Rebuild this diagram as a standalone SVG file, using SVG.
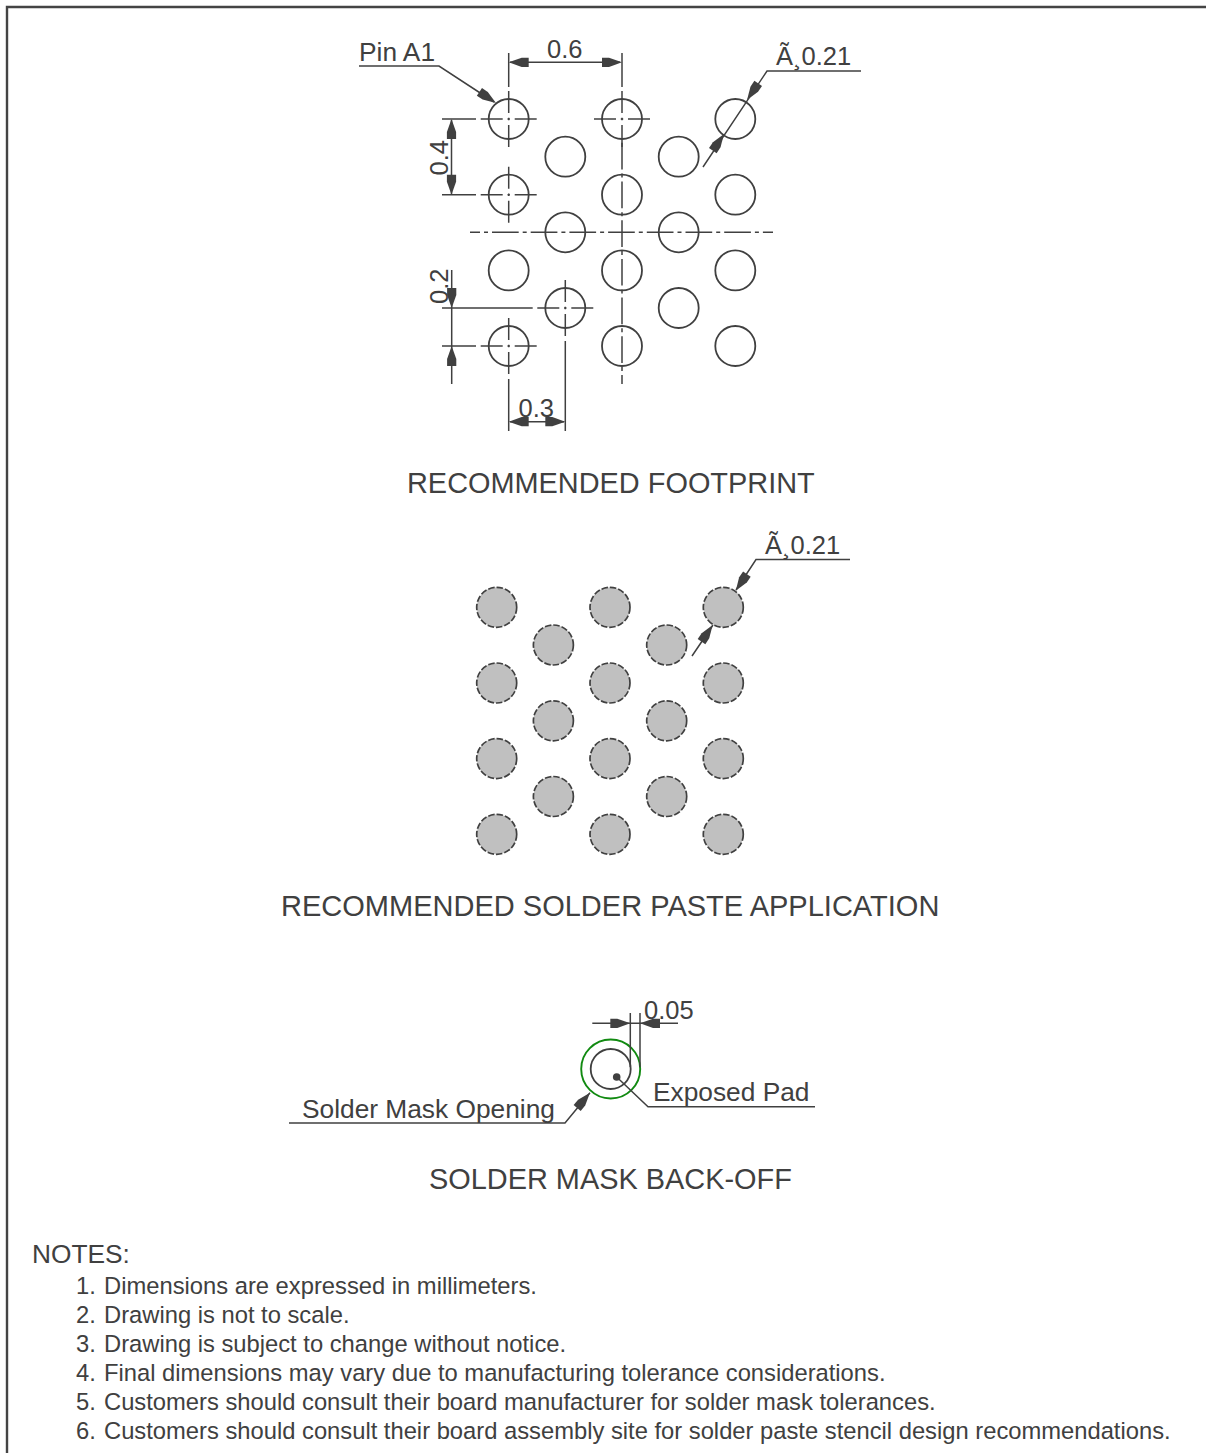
<svg xmlns="http://www.w3.org/2000/svg" width="1206" height="1453" viewBox="0 0 1206 1453">
<style>
text{font-family:"Liberation Sans",Arial,sans-serif;fill:#404040}
.t{font-size:28.9px}.d{font-size:26.3px}.m{font-size:25.5px}.n{font-size:23.75px}
.l{fill:none;stroke:#404040;stroke-width:1.5}
.p{fill:#fff;stroke:#404040;stroke-width:1.8}
.s{fill:#c0c0c0;stroke:#404040;stroke-width:1.7;stroke-dasharray:6.5 2}
.c{fill:none;stroke:#404040;stroke-width:1.5;stroke-dasharray:26.7 4 4 4}
.a{fill:#404040;stroke:none}
</style>
<defs>
<g id="cross" class="l"><path d="M-28 0H-6M-1.2 0H1.2M6 0H28M0 -28V-6M0 -1.2V1.2M0 6V28"/></g>
<path id="ah" class="a" d="M0 0L-13 -4.6L-20 -4.6V4.6L-13 4.6Z"/>
</defs>
<g id="frame"><path d="M7 1453V7H1206" fill="none" stroke="#444" stroke-width="2.4"/></g>
<g id="footprint-pads">
<circle class="p" cx="508.7" cy="119" r="20"/><circle class="p" cx="508.7" cy="194.7" r="20"/><circle class="p" cx="508.7" cy="270.4" r="20"/><circle class="p" cx="508.7" cy="346" r="20"/>
<circle class="p" cx="565.3" cy="156.7" r="20"/><circle class="p" cx="565.3" cy="232.3" r="20"/><circle class="p" cx="565.3" cy="308" r="20"/>
<circle class="p" cx="622" cy="119" r="20"/><circle class="p" cx="622" cy="194.7" r="20"/><circle class="p" cx="622" cy="270.4" r="20"/><circle class="p" cx="622" cy="346" r="20"/>
<circle class="p" cx="678.7" cy="156.7" r="20"/><circle class="p" cx="678.7" cy="232.3" r="20"/><circle class="p" cx="678.7" cy="308" r="20"/>
<circle class="p" cx="735.3" cy="119" r="20"/><circle class="p" cx="735.3" cy="194.7" r="20"/><circle class="p" cx="735.3" cy="270.4" r="20"/><circle class="p" cx="735.3" cy="346" r="20"/>
</g>
<g id="paste-pads">
<circle class="s" cx="496.7" cy="607.3" r="20"/><circle class="s" cx="496.7" cy="683" r="20"/><circle class="s" cx="496.7" cy="758.6" r="20"/><circle class="s" cx="496.7" cy="834.3" r="20"/>
<circle class="s" cx="553.4" cy="645" r="20"/><circle class="s" cx="553.4" cy="720.8" r="20"/><circle class="s" cx="553.4" cy="796.5" r="20"/>
<circle class="s" cx="610" cy="607.3" r="20"/><circle class="s" cx="610" cy="683" r="20"/><circle class="s" cx="610" cy="758.6" r="20"/><circle class="s" cx="610" cy="834.3" r="20"/>
<circle class="s" cx="666.7" cy="645" r="20"/><circle class="s" cx="666.7" cy="720.8" r="20"/><circle class="s" cx="666.7" cy="796.5" r="20"/>
<circle class="s" cx="723.3" cy="607.3" r="20"/><circle class="s" cx="723.3" cy="683" r="20"/><circle class="s" cx="723.3" cy="758.6" r="20"/><circle class="s" cx="723.3" cy="834.3" r="20"/>
</g>
<g id="mask-detail">
<circle cx="610.7" cy="1069" r="29.5" fill="none" stroke="#118a11" stroke-width="1.9"/>
<circle cx="610.7" cy="1069" r="20" fill="none" stroke="#404040" stroke-width="1.8"/>
</g>
<g id="connectors">
<use href="#cross" x="508.7" y="119"/><use href="#cross" x="508.7" y="194.7"/><use href="#cross" x="508.7" y="346"/><use href="#cross" x="565.3" y="308"/><use href="#cross" x="622" y="119"/>
<path class="c" d="M470 232.3H773" stroke-dashoffset="16.7"/>
<path class="c" d="M622 384V141" stroke-dashoffset="17.7"/>
<path class="l" d="M508.7 53V87M622 53V87M510 62.3H620"/>
<use href="#ah" transform="translate(508.7 62.3) rotate(180)"/><use href="#ah" x="622" y="62.3"/>
<path class="l" d="M359 66H439L494 102"/><use href="#ah" transform="translate(496 103) rotate(34)"/>
<path class="l" d="M442 119H476M442 194.7H476M451.5 120V194"/>
<use href="#ah" transform="translate(451.5 119) rotate(-90)"/><use href="#ah" transform="translate(451.5 194.7) rotate(90)"/>
<path class="l" d="M861 71H767L703 167"/><use href="#ah" transform="translate(747 100) rotate(124)"/><use href="#ah" transform="translate(724 134) rotate(-56)"/>
<path class="l" d="M442 308H532.7M442 346H476M451.7 270V384"/>
<use href="#ah" transform="translate(451.7 308) rotate(90)"/><use href="#ah" transform="translate(451.7 346) rotate(-90)"/>
<path class="l" d="M508.7 379V431M565.3 341V431M510 421.7H564"/>
<use href="#ah" transform="translate(508.7 421.7) rotate(180)"/><use href="#ah" x="565.3" y="421.7"/>
<path class="l" d="M850 559.5H756L736 590M713 625L692 656"/><use href="#ah" transform="translate(735.7 590.7) rotate(124)"/><use href="#ah" transform="translate(712.7 625) rotate(-56)"/>
<path class="l" d="M592.3 1023.3H678M630.3 1013V1067M640 1013V1067"/>
<use href="#ah" x="630.3" y="1023.3"/><use href="#ah" transform="translate(640 1023.3) rotate(180)"/>
<path class="l" d="M289 1123H565L590 1092.7"/><use href="#ah" transform="translate(590 1092.7) rotate(-50)"/>
<path class="l" d="M616.7 1077L648 1106.7H815"/><circle class="a" cx="616.7" cy="1077" r="3.8"/>
</g>
<g id="labels">
<text class="d" x="359" y="61">Pin A1</text>
<text class="m" x="547" y="57.5">0.6</text>
<text class="m" x="776" y="65">Ã¸0.21</text>
<text class="m" transform="translate(447.5 175.5) rotate(-90)">0.4</text>
<text class="m" transform="translate(447.5 304) rotate(-90)">0.2</text>
<text class="m" x="518.5" y="417">0.3</text>
<text class="t" x="407" y="492.5">RECOMMENDED FOOTPRINT</text>
<text class="m" x="765" y="554">Ã¸0.21</text>
<text class="t" x="281" y="915.5" style="font-size:29.03px">RECOMMENDED SOLDER PASTE APPLICATION</text>
<text class="m" x="644" y="1019">0.05</text>
<text class="d" x="653" y="1101">Exposed Pad</text>
<text class="d" x="302" y="1118">Solder Mask Opening</text>
<text class="t" x="429" y="1188.5">SOLDER MASK BACK-OFF</text>
<text class="d" x="32" y="1263">NOTES:</text>
<text class="n" x="76" y="1294">1.</text><text class="n" x="104" y="1294">Dimensions are expressed in millimeters.</text>
<text class="n" x="76" y="1323">2.</text><text class="n" x="104" y="1323">Drawing is not to scale.</text>
<text class="n" x="76" y="1352">3.</text><text class="n" x="104" y="1352">Drawing is subject to change without notice.</text>
<text class="n" x="76" y="1381">4.</text><text class="n" x="104" y="1381">Final dimensions may vary due to manufacturing tolerance considerations.</text>
<text class="n" x="76" y="1410">5.</text><text class="n" x="104" y="1410">Customers should consult their board manufacturer for solder mask tolerances.</text>
<text class="n" x="76" y="1439">6.</text><text class="n" x="104" y="1439">Customers should consult their board assembly site for solder paste stencil design recommendations.</text>
</g>
</svg>
